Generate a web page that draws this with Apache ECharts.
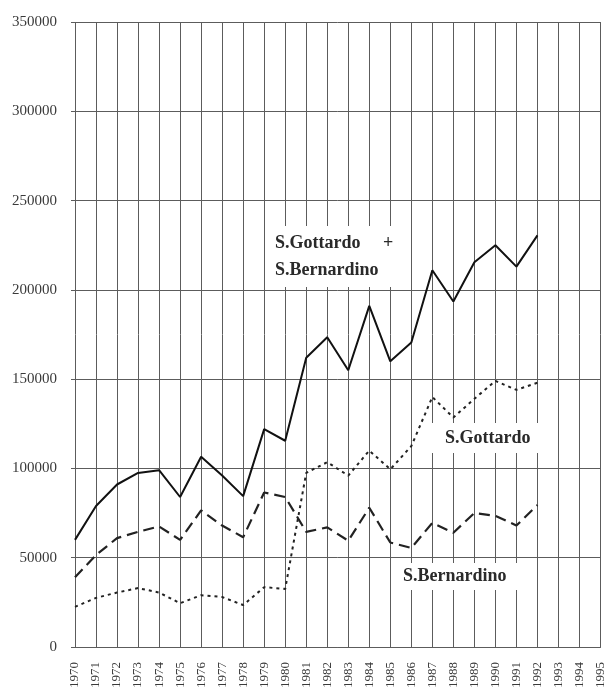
<!DOCTYPE html>
<html>
<head>
<meta charset="utf-8">
<script src="https://cdn.jsdelivr.net/npm/echarts@6/dist/echarts.min.js"></script>
<style>
  html, body { margin: 0; padding: 0; background: #fff; }
  #chart { width: 607px; height: 698px; }
</style>
</head>
<body>
<div id="chart"></div>
<script>
// years on the x axis (data stops at 1992)
const years = [];
for (let y = 1970; y <= 1995; y++) years.push(String(y));

// S.Gottardo + S.Bernardino (solid)
const totale = [60000, 79000, 91000, 97500, 99000, 84000, 106500, 96000, 84500, 122000,
  115500, 162000, 173500, 155000, 191000, 160000, 170500, 211000, 193500, 215500,
  225000, 213000, 230500];
// S.Gottardo (dotted)
const gottardo = [22500, 27500, 30500, 33000, 30500, 24500, 29000, 28000, 23500, 33500,
  32500, 97500, 103500, 96000, 110000, 99500, 112500, 140000, 128500, 139000,
  149000, 144000, 148000];
// S.Bernardino (dashed)
const bernardino = [39000, 51500, 61000, 64500, 67500, 60000, 76500, 68000, 61500, 86500,
  84000, 64500, 67000, 59500, 78000, 58500, 55500, 69500, 64000, 75000,
  73500, 68000, 79500];

const yTicks = [0, 50000, 100000, 150000, 200000, 250000, 300000, 350000];

const chart = echarts.init(document.getElementById('chart'));
const serif = '"Liberation Serif", "DejaVu Serif", serif';
const gridColor = '#5c5c5c';

// white-boxed labels placed on the grid
function note(text, left, top, padding) {
  return {
    type: 'text', left: left, top: top, z: 100,
    style: {
      text: text, fill: '#2a2a2a', font: 'bold 18px ' + serif,
      backgroundColor: '#fff', padding: padding, lineHeight: 27
    }
  };
}

const option = {
  animation: false,
  grid: { left: 75, right: 5, top: 22, bottom: 51 },
  xAxis: {
    type: 'category',
    data: years,
    boundaryGap: false,
    axisLine: { lineStyle: { color: gridColor } },
    axisTick: { show: false },
    axisLabel: { rotate: 90, interval: 0, color: '#3a3a3a', fontFamily: serif, fontSize: 13, margin: 15 },
    splitLine: { show: true, interval: 0, lineStyle: { color: gridColor, width: 1 } }
  },
  yAxis: {
    type: 'value',
    min: 0, max: 350000, interval: 50000,
    axisLine: { show: false },
    axisTick: { show: true, length: 4, lineStyle: { color: gridColor } },
    axisLabel: {
      color: '#3a3a3a', fontFamily: serif, fontSize: 15, margin: 18,
      formatter: v => yTicks.includes(v) ? String(v) : ''
    },
    splitLine: { lineStyle: { color: gridColor, width: 1 } }
  },
  series: [
    {
      name: 'S.Gottardo + S.Bernardino', type: 'line', data: totale,
      symbol: 'none', lineStyle: { color: '#111', width: 2 }
    },
    {
      name: 'S.Gottardo', type: 'line', data: gottardo,
      symbol: 'none', lineStyle: { color: '#222', width: 2, type: [3, 4] }
    },
    {
      name: 'S.Bernardino', type: 'line', data: bernardino,
      symbol: 'none', lineStyle: { color: '#222', width: 2.2, type: [11, 6] }
    }
  ],
  graphic: [
    note('S.Gottardo     +\nS.Bernardino', 272, 226, [4, 4, 3, 3]),
    note('S.Gottardo', 425, 423, [2, 13, 1, 20]),
    note('S.Bernardino', 400, 563, [0, 18, 0, 3])
  ]
};
chart.setOption(option);
</script>
</body>
</html>
